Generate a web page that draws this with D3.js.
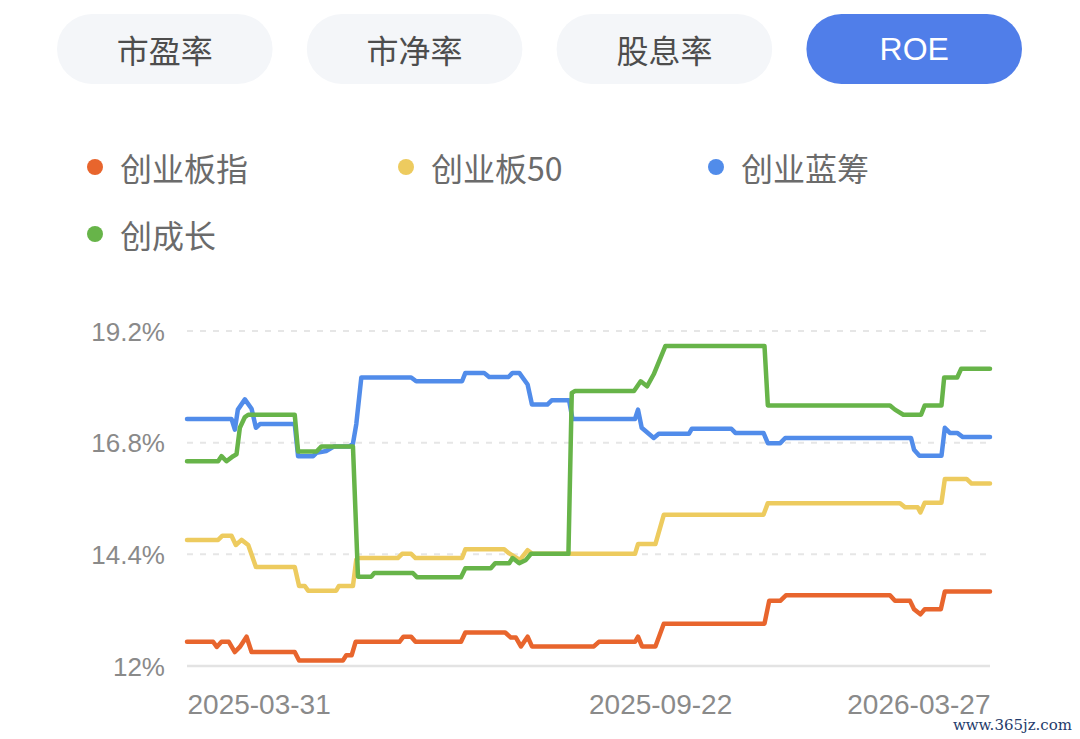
<!DOCTYPE html>
<html>
<head>
<meta charset="utf-8">
<script src="https://cdn.jsdelivr.net/npm/d3@7"></script>
<style>
  body { margin: 0; background: #fff; }
  svg { display: block; }
</style>
</head>
<body>
<div id="chart"></div>
<script>
// tabs across the top, last one is the active one
const TABS = ["市盈率", "市净率", "股息率", "ROE"];
const ACTIVE_TAB = "ROE";

const SERIES_NAMES = ["创业板指", "创业板50", "创业蓝筹", "创成长"];
const COLORS = {"创业板指": "#e8652d", "创业板50": "#edcb5f", "创业蓝筹": "#518cea", "创成长": "#67b449"};

// x = trading day index, y = ROE in %
const CYB_INDEX = [[0,12.52],[7.8,12.52],[8.9,12.41],[10.3,12.52],[12.5,12.52],[14.3,12.30],[15.8,12.41],[17.8,12.63],[19.3,12.30],[32.2,12.30],[33.5,12.12],[46.6,12.12],[47.6,12.23],[49.2,12.23],[50.4,12.52],[63.5,12.52],[64.7,12.63],[67.0,12.63],[68.3,12.52],[81.9,12.52],[83.2,12.72],[95.1,12.72],[96.8,12.61],[98.3,12.61],[99.8,12.42],[101.8,12.63],[103.1,12.42],[121.6,12.42],[123.1,12.52],[133.9,12.52],[134.8,12.63],[136.0,12.42],[140.0,12.42],[142.5,12.91],[172.6,12.91],[174.0,13.40],[177.3,13.40],[179.0,13.52],[210.1,13.52],[211.6,13.40],[216.1,13.40],[217.3,13.22],[219.2,13.11],[220.5,13.22],[225.3,13.22],[226.5,13.60],[240,13.60]];

const CYB_50 = [[0,14.71],[9.3,14.71],[10.6,14.80],[13.3,14.80],[14.6,14.60],[16.3,14.71],[18.3,14.60],[20.6,14.13],[32.2,14.13],[33.5,13.72],[35.2,13.72],[36.2,13.62],[44.6,13.62],[45.4,13.72],[49.6,13.72],[50.6,14.29],[51.1,14.32],[63.0,14.32],[64.3,14.41],[67.0,14.41],[68.3,14.32],[82.2,14.32],[83.2,14.51],[94.8,14.51],[96.3,14.42],[99.5,14.28],[101.8,14.49],[103.2,14.41],[133.9,14.41],[134.8,14.62],[140.0,14.62],[142.5,15.25],[172.3,15.25],[173.6,15.50],[213.1,15.50],[214.6,15.41],[218.4,15.41],[219.2,15.30],[220.5,15.51],[225.5,15.51],[226.5,16.02],[233.0,16.02],[234.5,15.92],[240,15.92]];

const CYB_BLUECHIP = [[0,17.31],[13.3,17.31],[14.3,17.08],[15.2,17.51],[17.3,17.73],[19.3,17.53],[20.6,17.12],[21.8,17.20],[32.2,17.20],[33.2,16.51],[37.7,16.51],[38.7,16.58],[41.6,16.62],[44,16.72],[48.6,16.72],[49.6,16.78],[50.6,17.2],[52.1,18.2],[67.0,18.2],[68.5,18.12],[82.2,18.12],[83.2,18.30],[88.8,18.30],[90.3,18.21],[96.1,18.21],[97.3,18.30],[99.3,18.30],[101.8,18.05],[103.1,17.62],[107.7,17.62],[109.0,17.71],[114.2,17.71],[115.2,17.31],[133.9,17.31],[134.8,17.51],[135.9,17.12],[139.5,16.90],[141.0,16.99],[150.0,16.99],[150.9,17.10],[162.7,17.10],[163.9,17.01],[172.3,17.01],[173.6,16.79],[177.3,16.79],[178.8,16.90],[216.4,16.90],[217.3,16.65],[218.9,16.52],[225.5,16.52],[226.5,17.12],[228.0,17.01],[230.2,17.01],[231.9,16.92],[240,16.92]];

const CYB_GROWTH = [[0,16.40],[9.3,16.40],[10.3,16.51],[11.8,16.40],[13.8,16.51],[14.8,16.55],[15.8,17.12],[17.3,17.35],[18.3,17.40],[32.2,17.40],[33.2,16.61],[38.7,16.61],[40.2,16.72],[49.6,16.72],[51.1,13.92],[55.1,13.92],[56.0,14.00],[67.5,14.00],[68.7,13.91],[81.9,13.91],[83.2,14.10],[90.8,14.10],[92.1,14.21],[96.3,14.21],[97.3,14.32],[99.3,14.21],[101.3,14.28],[102.8,14.41],[114.0,14.41],[115.0,17.87],[116,17.91],[133.6,17.91],[135.6,18.12],[137.5,18.01],[139.5,18.27],[143.0,18.88],[172.6,18.88],[173.6,17.60],[210.1,17.60],[211.6,17.51],[214.1,17.40],[219.4,17.40],[220.5,17.60],[225.5,17.60],[226.3,18.20],[230.2,18.20],[231.4,18.39],[240,18.39]];

const Y_TICKS = [12, 14.4, 16.8, 19.2];
const X_TICKS = [0, 120, 240];
const X_LABELS = ["2025-03-31", "2025-09-22", "2026-03-27"];

const W = 1080, H = 739;
const CJK = "'Noto Sans CJK SC', 'Noto Sans', sans-serif";
const LATIN = "'Liberation Sans', Arial, sans-serif";

const SVG = d3.select("#chart")
    .append("svg")
        .attr("width", W)
        .attr("height", H)
        .attr("viewBox", `0 0 ${W} ${H}`);

// ---- tabs ----
const tabX = d3.scaleBand().domain(TABS).range([57, 1022]).paddingInner(0.137);
const tabs = SVG.append("g").selectAll("g")
    .data(TABS)
    .enter()
    .append("g")
        .attr("transform", d => `translate(${tabX(d)},14)`);

tabs.append("rect")
    .attr("width", tabX.bandwidth())
    .attr("height", 70)
    .attr("rx", 35)
    .style("fill", d => d === ACTIVE_TAB ? "#507ee9" : "#f4f6f9");

tabs.append("text")
    .attr("x", tabX.bandwidth() / 2)
    .attr("y", 35)
    .attr("text-anchor", "middle")
    .attr("dominant-baseline", "central")
    .style("font-family", d => d === ACTIVE_TAB ? LATIN : CJK)
    .style("font-size", "32px")
    .style("fill", d => d === ACTIVE_TAB ? "#ffffff" : "#4d4d4d")
    .text(d => d);

// ---- legend ----
const LEGEND_POS = [[95, 167], [406, 167], [716, 167], [95, 234]]; // dot centres
const legend = SVG.append("g").selectAll("g")
    .data(SERIES_NAMES)
    .enter()
    .append("g")
        .attr("transform", (d, i) => `translate(${LEGEND_POS[i][0]},${LEGEND_POS[i][1]})`);

legend.append("circle")
    .attr("r", 8)
    .style("fill", d => COLORS[d]);

legend.append("text")
    .attr("x", 25)
    .attr("dominant-baseline", "central")
    .style("font-family", CJK)
    .style("font-size", "32px")
    .style("fill", "#6b6b6b")
    .text(d => d);

// ---- chart ----
const plotLeft = 187, plotRight = 990, plotTop = 331, plotBottom = 666;

const x = d3.scaleLinear().domain([0, 240]).range([plotLeft, plotRight]);
const y = d3.scaleLinear().domain([12, 19.2]).range([plotBottom, plotTop]);

// grid lines (dashed) + base line
SVG.append("g").selectAll("line")
    .data(Y_TICKS)
    .enter()
    .append("line")
        .attr("x1", plotLeft)
        .attr("x2", plotRight)
        .attr("y1", d => y(d))
        .attr("y2", d => y(d))
        .style("stroke", d => d === 12 ? "#e3e3e3" : "#e6e6e6")
        .style("stroke-width", d => d === 12 ? 2.5 : 2)
        .style("stroke-dasharray", d => d === 12 ? null : "6,7");

const yAxis = SVG.append("g")
    .attr("transform", `translate(${plotLeft - 22},0)`)
    .call(d3.axisLeft(y).tickValues(Y_TICKS).tickSize(0).tickFormat(d => d + "%"));
yAxis.select(".domain").remove();
yAxis.selectAll("text")
    .attr("x", 0)
    .attr("dy", "0.35em")
    .style("font-family", LATIN)
    .style("font-size", "26px")
    .style("fill", "#8a8a8a");

const xAxis = SVG.append("g")
    .attr("transform", `translate(0,${plotBottom})`)
    .call(d3.axisBottom(x).tickValues(X_TICKS).tickSize(0).tickFormat((d, i) => X_LABELS[i]));
xAxis.select(".domain").remove();
xAxis.selectAll("text")
    .attr("y", 38)
    .attr("dy", "0.35em")
    .attr("text-anchor", (d, i) => i === X_TICKS.length - 1 ? "end" : "start")
    .style("font-family", LATIN)
    .style("font-size", "28px")
    .style("fill", "#8a8a8a");

const line = d3.line()
    .x(d => x(d[0]))
    .y(d => y(d[1]));

const seriesData = [
    {name: "创业板指", values: CYB_INDEX},
    {name: "创业板50", values: CYB_50},
    {name: "创业蓝筹", values: CYB_BLUECHIP},
    {name: "创成长", values: CYB_GROWTH}
];

SVG.append("g").selectAll("path")
    .data(seriesData)
    .enter()
    .append("path")
        .attr("d", d => line(d.values))
        .style("fill", "none")
        .style("stroke", d => COLORS[d.name])
        .style("stroke-width", 4.5)
        .style("stroke-linejoin", "round")
        .style("stroke-linecap", "round");

// watermark
SVG.append("text")
    .attr("x", 1072)
    .attr("y", 730)
    .attr("text-anchor", "end")
    .style("font-family", "'DejaVu Serif', serif")
    .style("font-size", "15px")
    .style("fill", "#1f3b6b")
    .text("www.365jz.com");
</script>
</body>
</html>
